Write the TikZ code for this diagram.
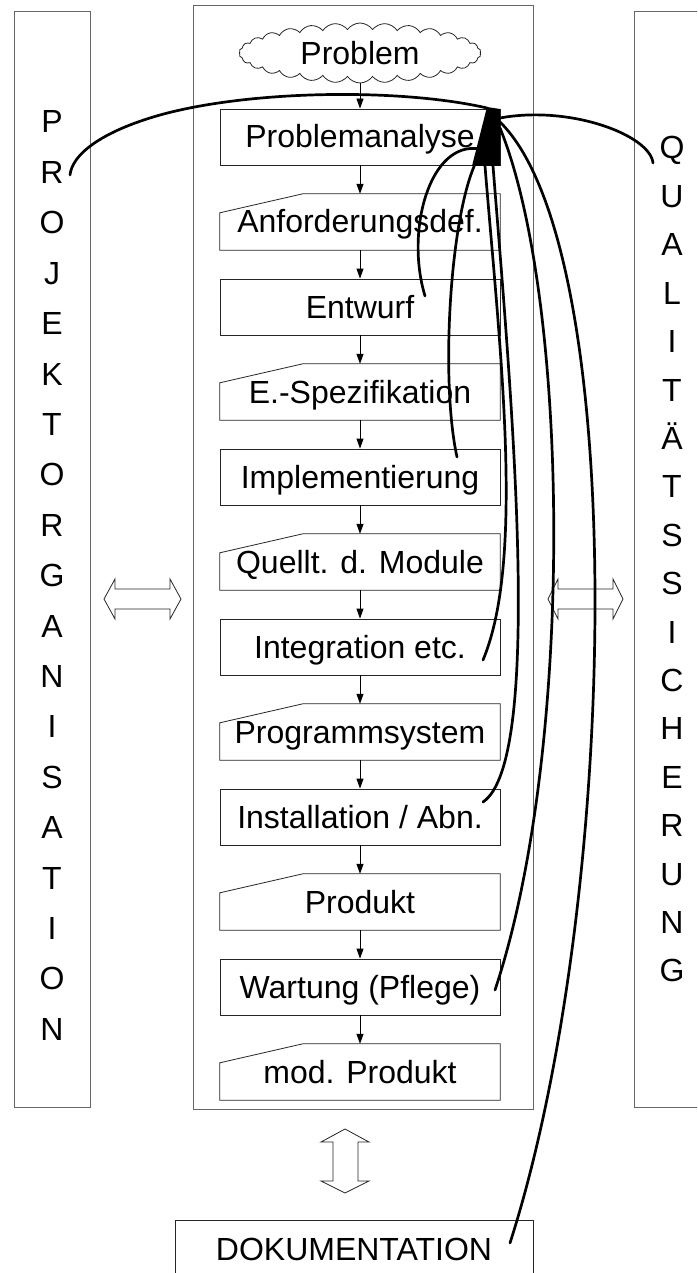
\documentclass[tikz,border=0pt]{standalone}
\usepackage{fontspec}
\setmainfont{Liberation Sans}
\usetikzlibrary{shapes.symbols,arrows.meta,calc}
\newcommand\diagfont{\fontsize{32}{36}\selectfont}
\begin{document}
\begin{tikzpicture}[x=1pt,y=-1pt,
  frame/.style={draw=black!60,line width=0.9pt},
  boxline/.style={draw=black!85,line width=0.8pt},
  box/.style={minimum width=280pt,minimum height=56pt,inner sep=0pt,text height=28pt,text depth=6pt,font=\diagfont},
  flow/.style={draw=black,line width=0.8pt,-{Triangle[length=10pt,width=7pt]}},
  link/.style={draw=black,line width=2.7pt,line cap=round},
  letter/.style={anchor=base,font=\diagfont,inner sep=0pt}]
\clip (0,0) rectangle (697,1273);
\fill[white] (0,0) rectangle (697,1273);
% frames
\draw[frame] (14,11) rectangle (90,1107);
\draw[frame] (193,5) rectangle (533,1109);
\draw[frame] (634,11) rectangle (710,1107);
% side letters
\foreach \c [count=\i] in {P,R,O,J,E,K,T,O,R,G,A,N,I,S,A,T,I,O,N}
  \node[letter] (po\i) at (52,{133+(\i-1)*50.4}) {\c};
\foreach \c [count=\i] in {Q,U,A,L,I,T,Ä,T,S,S,I,C,H,E,R,U,N,G}
  \node[letter] (qs\i) at (672,{159+(\i-1)*48.4}) {\c};
% cloud
\node[cloud,draw=black!85,line width=0.8pt,cloud puffs=30,cloud puff arc=110,aspect=4.1,
  minimum width=242pt,minimum height=60pt,inner sep=0pt,font=\diagfont] (prob) at (360,53) {Problem};
% boxes
\node[box,boxline] (b1) at (360,137) {Problemanalyse};
\node[box] (b2) at (360,222) {Anforderungsdef.};
\node[box,boxline] (b3) at (360,307) {Entwurf};
\node[box] (b4) at (360,392) {E.-Spezifikation};
\node[box,boxline] (b5) at (360,477) {Implementierung};
\node[box] (b6) at (360,562) {Quellt. d. Module};
\node[box,boxline] (b7) at (360,647) {Integration etc.};
\node[box] (b8) at (360,732) {Programmsystem};
\node[box,boxline] (b9) at (360,817) {Installation / Abn.};
\node[box] (b10) at (360,902) {Produkt};
\node[box,boxline] (b11) at (360,987) {Wartung (Pflege)};
\node[box] (b12) at (360,1072) {mod. Produkt};
\foreach \n in {b2,b4,b6,b8,b10,b12}
  \draw[boxline] (\n.south west) -- ($(\n.north west)+(0,19)$) -- ($(\n.north west)+(83,0)$) -- (\n.north east) -- (\n.south east) -- cycle;
% flow arrows
\draw[flow] (prob.south) -- (b1.north);
\foreach \a/\b in {b1/b2,b2/b3,b3/b4,b4/b5,b5/b6,b6/b7,b7/b8,b8/b9,b9/b10,b10/b11,b11/b12}
  \draw[flow] (\a.south) -- (\b.north);
% documentation
\node[boxline,minimum width=358pt,minimum height=58pt,inner sep=0pt,text height=28pt,text depth=6pt,font=\diagfont] (doc) at (354,1249) {DOKUMENTATION};
% double arrows
\draw[boxline] (104,599) -- (115,579) -- (115,589) -- (170,589) -- (170,579) -- (181,599) -- (170,619) -- (170,609) -- (115,609) -- (115,619) -- cycle;
\draw[boxline] (548,599) -- (558,579) -- (558,589) -- (613,589) -- (613,579) -- (623,599) -- (613,619) -- (613,609) -- (558,609) -- (558,619) -- cycle;
\draw[boxline] (345,1129) -- (369,1142) -- (358,1142) -- (358,1181) -- (369,1181) -- (345,1193) -- (321,1181) -- (333,1181) -- (333,1142) -- (321,1142) -- cycle;
% hub
\fill[black] (487,107) -- (500,109) -- (500,166) -- (472,166) -- cycle;
\coordinate (sL) at (487,108);
\coordinate (sQ) at (500,118);
\coordinate (sA) at (480,149);
\coordinate (sB) at (478,158);
\coordinate (sC) at (485,166);
\coordinate (sD) at (493,166);
\coordinate (sE) at (500,128);
\coordinate (sF) at (500,122);
\coordinate (eL) at (70,175);
\coordinate (eQ) at (653,163);
\coordinate (eA) at (425,296);
\coordinate (eB) at (457,457);
\coordinate (eC) at (483,660);
\coordinate (eD) at (483,802);
\coordinate (eE) at (495,990);
\coordinate (eF) at (510,1243);
\draw[link] (sL) .. controls (400,88) and (250,90) .. (160,115) .. controls (100,132) and (72,155) .. (eL);
\draw[link] (sQ) .. controls (570,105) and (650,135) .. (eQ);
\draw[link] (sA) .. controls (430,140) and (405,230) .. (eA);
\draw[link] (sB) .. controls (450,210) and (440,380) .. (eB);
\draw[link] (sC) .. controls (500,350) and (525,560) .. (eC);
\draw[link] (sD) .. controls (510,380) and (545,760) .. (eD);
\draw[link] (sE) .. controls (570,300) and (575,750) .. (eE);
\draw[link] (sF) .. controls (630,250) and (620,900) .. (eF);
\end{tikzpicture}
\end{document}
